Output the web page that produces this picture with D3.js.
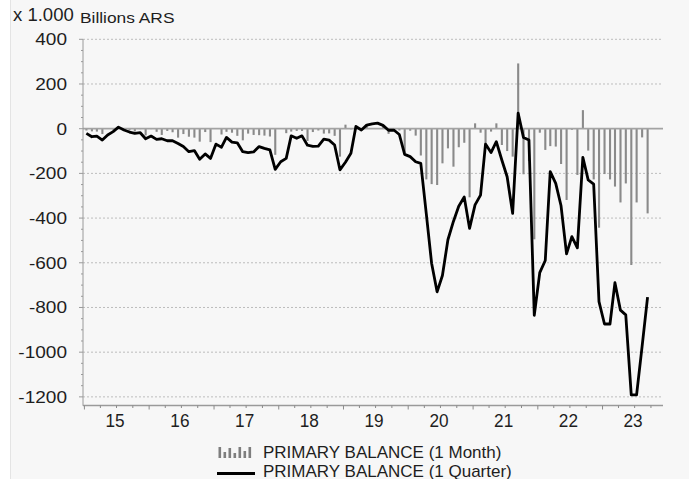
<!DOCTYPE html>
<html>
<head>
<meta charset="utf-8">
<script src="https://cdn.jsdelivr.net/npm/d3@7"></script>
<style>
    html, body { margin: 0; padding: 0; background: #fff; }
    svg { display: block; font-family: 'Liberation Sans', Arial, sans-serif; }
</style>
</head>
<body>
<svg id="chart" width="689" height="479"></svg>
<script>
// primary balance, billions ARS (x 1.000), Jan 2015 - Sep 2023
const firstMonth = new Date(2015, 0, 12);

const monthly = [
    -8, -12, -13, -24, 2, -4, 3, -4, -8, -12, -2, -30,
    -2, -14, -28, -10, -16, -40, -24, -36, -40, -58, -15, -60,
    0, -26, -14, -18, -32, -52, -22, -28, -29, -31, -35, -117,
    2, -20, -13, -10, -10, -55, -15, -8, -22, -21, -32, -125,
    18, -3, -3, 0, 19, 2, 3, 11, -23, 3, -8, -108,
    -9, -31, -120, -227, -248, -252, -155, -88, -170, -83, -63, -307,
    24, -18, -66, -13, 24, -73, -100, -125, 292, -204, -145, -495,
    -18, -95, -78, -80, -158, -319, -5, -207, 83, -98, -227, -443,
    -203, -227, -259, -330, -245, -610, -330, -39, -379
];

const quarterly = [
    -21, -36, -33, -51, -28, -13, 7, -6, -15, -21, -18, -45,
    -33, -48, -45, -54, -54, -66, -80, -103, -98, -137, -113, -133,
    -69, -83, -39, -60, -63, -103, -107, -104, -80, -88, -95, -182,
    -148, -133, -32, -43, -32, -74, -79, -78, -47, -51, -73, -184,
    -150, -110, 10, -6, 16, 22, 25, 15, -7, -6, -26, -115,
    -125, -148, -155, -380, -602, -730, -657, -497, -415, -347, -306, -446,
    -341, -297, -69, -107, -58, -140, -215, -379, 70, -39, -51, -835,
    -644, -590, -192, -245, -345, -560, -483, -533, -128, -229, -248, -774,
    -874, -874, -689, -812, -833, -1191, -1191, -975, -754
];

const years = [2015, 2016, 2017, 2018, 2019, 2020, 2021, 2022, 2023];
const yTicks = [400, 200, 0, -200, -400, -600, -800, -1000, -1200];
const seriesNames = ['PRIMARY BALANCE (1 Month)', 'PRIMARY BALANCE (1 Quarter)'];

const months = monthly.map((d, i) => d3.timeMonth.offset(firstMonth, i));

const svg = d3.select('#chart');
const textColor = '#1e1e1e';

// panel
svg.append('rect')
    .attr('x', 10.5)
    .attr('y', -1)
    .attr('width', 690)
    .attr('height', 481)
    .attr('fill', '#f7f7f7')
    .attr('stroke', '#e4e4e4');

const xScale = d3.scaleTime()
    .domain([new Date(2014, 11, 24), new Date(2023, 11, 8)])
    .range([83, 663]);

const yScale = d3.scaleLinear()
    .domain([-1240, 400])
    .range([405.8, 39.3]);

// grid
svg.append('g')
    .selectAll('line')
    .data(yTicks.filter((v) => v !== 0))
    .enter()
    .append('line')
    .attr('x1', 83)
    .attr('x2', 663)
    .attr('y1', (v) => yScale(v))
    .attr('y2', (v) => yScale(v))
    .attr('stroke', '#bdbdbd')
    .attr('stroke-width', 1)
    .attr('stroke-dasharray', '2,2');

// monthly bars
svg.append('g')
    .selectAll('rect')
    .data(monthly)
    .enter()
    .append('rect')
    .attr('x', (d, i) => xScale(months[i]) - 1)
    .attr('y', (d) => yScale(Math.max(0, d)))
    .attr('width', 2.1)
    .attr('height', (d) => Math.abs(yScale(d) - yScale(0)))
    .attr('fill', '#8a8a8a');

// zero line
svg.append('line')
    .attr('x1', 83)
    .attr('x2', 663)
    .attr('y1', yScale(0))
    .attr('y2', yScale(0))
    .attr('stroke', '#a3a3a3')
    .attr('stroke-width', 1.8);

// quarterly line
const line = d3.line()
    .x((d, i) => xScale(months[i]))
    .y((d) => yScale(d));

svg.append('path')
    .datum(quarterly)
    .attr('d', line)
    .attr('fill', 'none')
    .attr('stroke', '#000')
    .attr('stroke-width', 2.8)
    .attr('stroke-linejoin', 'round');

// y axis
const yAxis = svg.append('g');
yAxis.append('line')
    .attr('x1', 83).attr('x2', 83)
    .attr('y1', yScale(400)).attr('y2', 405.8)
    .attr('stroke', '#9a9a9a');

yAxis.selectAll('.minor')
    .data(d3.range(-1200, 401, 50))
    .enter()
    .append('line')
    .attr('x1', (v) => (v % 200 === 0 ? 79 : 81))
    .attr('x2', 83)
    .attr('y1', (v) => yScale(v))
    .attr('y2', (v) => yScale(v))
    .attr('stroke', '#9a9a9a');

yAxis.selectAll('text')
    .data(yTicks)
    .enter()
    .append('text')
    .attr('transform', (v) => `translate(67,${yScale(v) + 6}) scale(1.12,1)`)
    .attr('text-anchor', 'end')
    .attr('font-size', '17px')
    .attr('fill', textColor)
    .text((v) => v);

// x axis
const xAxis = svg.append('g');
xAxis.append('line')
    .attr('x1', 83).attr('x2', 663)
    .attr('y1', 405.5).attr('y2', 405.5)
    .attr('stroke', '#9a9a9a')
    .attr('stroke-width', 1.4);

xAxis.selectAll('.tick')
    .data(d3.timeMonth.every(3).range(new Date(2015, 0, 1), new Date(2023, 11, 1)))
    .enter()
    .append('line')
    .attr('x1', (d) => xScale(d))
    .attr('x2', (d) => xScale(d))
    .attr('y1', 405.5)
    .attr('y2', (d) => (d.getMonth() === 0 ? 409.5 : 408))
    .attr('stroke', '#8a8a8a');

xAxis.selectAll('text')
    .data(years)
    .enter()
    .append('text')
    .attr('transform', (y) => `translate(${xScale(new Date(y, 6, 1)) - 1.5},427) scale(0.93,1)`)
    .attr('text-anchor', 'middle')
    .attr('font-size', '18.5px')
    .attr('fill', textColor)
    .text((y) => String(y).slice(2));

// header
svg.append('text')
    .attr('transform', 'translate(13,21) scale(1.06,1)')
    .attr('font-size', '17.5px')
    .attr('fill', textColor)
    .text('x 1.000');

svg.append('text')
    .attr('transform', 'translate(80,23) scale(1.12,1)')
    .attr('font-size', '15.5px')
    .attr('fill', textColor)
    .text('Billions ARS');

// legend
const legend = svg.append('g');
const iconBars = [11, 6, 10, 5, 11, 7, 11];
legend.selectAll('rect')
    .data(iconBars)
    .enter()
    .append('rect')
    .attr('x', (d, i) => 218.5 + i * 5)
    .attr('y', (d) => 458 - d)
    .attr('width', 2.6)
    .attr('height', (d) => d)
    .attr('fill', '#7e7e7e');

legend.append('line')
    .attr('x1', 217).attr('x2', 255)
    .attr('y1', 473.5).attr('y2', 473.5)
    .attr('stroke', '#000')
    .attr('stroke-width', 3);

legend.selectAll('text')
    .data(seriesNames)
    .enter()
    .append('text')
    .attr('x', 263)
    .attr('y', (d, i) => 457.5 + i * 19)
    .attr('font-size', '17px')
    .attr('fill', textColor)
    .text((d) => d);
</script>
</body>
</html>
